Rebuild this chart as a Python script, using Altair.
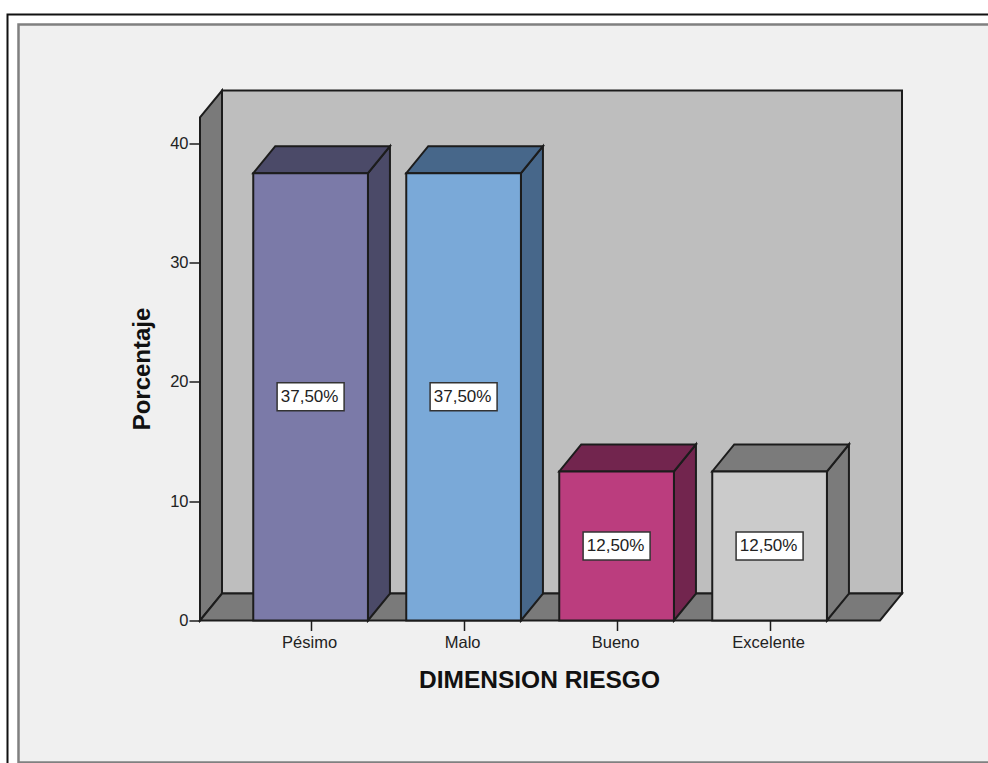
import json

import altair as alt
import pandas as pd

# Survey result per category, in percent
categories = ["Pésimo", "Malo", "Bueno", "Excelente"]
percentages = [37.5, 37.5, 12.5, 12.5]
front_colors = ["#7b7aa8", "#7aa9d8", "#bb3d7e", "#cbcbcb"]
shade_colors = ["#4b4a68", "#47678a", "#72254e", "#7b7b7b"]
y_ticks = [0, 10, 20, 30, 40]

# Box geometry in axis units: category index on x, percent on y
X_MIN, X_MAX = -0.7229, 3.8654
Y_MAX = 44.43
DEPTH_X, DEPTH_Y = 0.1438, 2.26
HALF_WIDTH = 0.3748
LINE = "#1c1c1c"
FONT = "Liberation Sans"
EDGE = 2

x_scale = alt.Scale(domain=[X_MIN, X_MAX], nice=False, zero=False)
y_scale = alt.Scale(domain=[0, Y_MAX], nice=False)
x_axis = alt.Axis(
    values=list(range(len(categories))),
    labelExpr=f"{json.dumps(categories)}[datum.value]",
    title="DIMENSION RIESGO",
    grid=False, domain=False, tickColor=LINE, tickSize=10, tickWidth=1.5,
    labelFont=FONT, labelFontSize=16.5, labelColor="#222222", labelPadding=4, labelOffset=-1.5,
    titleFont=FONT, titleFontSize=24.5, titleFontWeight="bold", titleColor="#111111",
    titleX=339, titleY=67, titleAnchor="middle", titleBaseline="alphabetic",
    labelFlush=False, labelOverlap=False, zindex=1,
)
y_axis = alt.Axis(
    values=y_ticks,
    title="Porcentaje",
    grid=False, domain=False, tickColor=LINE, tickSize=11, tickWidth=1.5,
    labelFont=FONT, labelFontSize=16.5, labelColor="#222222", labelPadding=1,
    titleFont=FONT, titleFontSize=24, titleFontWeight="bold", titleColor="#111111",
    titleX=-46, titleY=278, titleAnchor="middle", zindex=1,
)


def xq(field):
    return alt.X(field, type="quantitative", scale=x_scale, axis=x_axis)


def yq(field):
    return alt.Y(field, type="quantitative", scale=y_scale, axis=y_axis, stack=None)


# Outer page frame and inner gray panel, placed relative to the plot origin
outer_frame = alt.Chart(pd.DataFrame({"a": [0]})).mark_rect(
    fill="white", stroke="#111111", strokeWidth=2
).encode(x=alt.value(-192.5), x2=alt.value(1000), y=alt.value(-76), y2=alt.value(800))
panel = alt.Chart(pd.DataFrame({"a": [0]})).mark_rect(
    fill="#f0f0f0", stroke="#808080", strokeWidth=2.5
).encode(x=alt.value(-181.5), x2=alt.value(1000), y=alt.value(-66), y2=alt.value(672))

# Back wall of the box
back_wall = alt.Chart(
    pd.DataFrame({"x0": [X_MIN + DEPTH_X], "x1": [X_MAX], "y0": [DEPTH_Y], "y1": [Y_MAX]})
).mark_rect(fill="#bebebe", stroke=LINE, strokeWidth=EDGE).encode(
    x=xq("x0"), x2="x1", y=yq("y0"), y2="y1"
)

# Left wall and floor, each a slanted face described by lower and upper edges
left = X_MIN
near = X_MIN + DEPTH_X
far = X_MAX - DEPTH_X
box_rows = [
    {"face": "wall", "x": left, "lo": 0, "hi": Y_MAX - DEPTH_Y},
    {"face": "wall", "x": near, "lo": DEPTH_Y, "hi": Y_MAX},
    {"face": "floor", "x": left, "lo": 0, "hi": 0},
    {"face": "floor", "x": near, "lo": 0, "hi": DEPTH_Y},
    {"face": "floor", "x": far, "lo": 0, "hi": DEPTH_Y},
    {"face": "floor", "x": X_MAX, "lo": DEPTH_Y, "hi": DEPTH_Y},
]
box_faces = alt.Chart(pd.DataFrame(box_rows)).mark_area(
    fill="#7a7a7a", stroke=LINE, strokeWidth=EDGE, orient="vertical"
).encode(x=xq("x"), y=yq("lo"), y2="hi", detail="face:N")

# Side and top faces of every bar
face_rows = []
for i, (name, value) in enumerate(zip(categories, percentages)):
    x0, x1 = i - HALF_WIDTH, i + HALF_WIDTH
    face_rows += [
        {"cat": name, "face": "side", "x": x1, "lo": 0, "hi": value},
        {"cat": name, "face": "side", "x": x1 + DEPTH_X, "lo": DEPTH_Y, "hi": value + DEPTH_Y},
        {"cat": name, "face": "top", "x": x0, "lo": value, "hi": value},
        {"cat": name, "face": "top", "x": x0 + DEPTH_X, "lo": value, "hi": value + DEPTH_Y},
        {"cat": name, "face": "top", "x": x1, "lo": value, "hi": value + DEPTH_Y},
        {"cat": name, "face": "top", "x": x1 + DEPTH_X, "lo": value + DEPTH_Y, "hi": value + DEPTH_Y},
    ]
bar_faces = alt.Chart(pd.DataFrame(face_rows)).mark_area(
    stroke=LINE, strokeWidth=EDGE, orient="vertical"
).encode(
    x=xq("x"),
    y=yq("lo"),
    y2="hi",
    color=alt.Color("cat:N", scale=alt.Scale(domain=categories, range=shade_colors), legend=None),
    detail="face:N",
)

# Front faces and their value labels
bars = pd.DataFrame({
    "cat": categories,
    "idx": list(range(len(categories))),
    "x0": [i - HALF_WIDTH for i in range(len(categories))],
    "x1": [i + HALF_WIDTH for i in range(len(categories))],
    "value": percentages,
    "zero": [0] * len(categories),
    "mid": [v / 2 for v in percentages],
    "label": [f"{v:.2f}".replace(".", ",") + "%" for v in percentages],
})
fronts = alt.Chart(bars).mark_rect(stroke=LINE, strokeWidth=EDGE).encode(
    x=xq("x0"),
    x2="x1",
    y=yq("zero"),
    y2="value",
    color=alt.Color("cat:N", scale=alt.Scale(domain=categories, range=front_colors), legend=None),
)
label_boxes = alt.Chart(bars).mark_rect(
    fill="white", stroke="#333333", strokeWidth=1.5, width=67, height=28
).encode(x=xq("idx"), y=yq("mid"))
label_text = alt.Chart(bars).mark_text(
    font=FONT, fontSize=17, color="#222222", baseline="middle", align="center", dx=-1
).encode(x=xq("idx"), y=yq("mid"), text="label:N")

chart = (
    alt.layer(
        outer_frame, panel, back_wall, box_faces, bar_faces, fronts, label_boxes, label_text
    )
    .resolve_scale(color="independent")
    .properties(
        width=702,
        height=530,
        background="white",
        padding={"left": 200, "right": 86, "top": 90.5, "bottom": 142.5},
        autosize=alt.AutoSizeParams(type="none"),
    )
    .configure_view(stroke=None)
)

chart.save("out.html", embed_options={"renderer": "svg", "actions": False})
